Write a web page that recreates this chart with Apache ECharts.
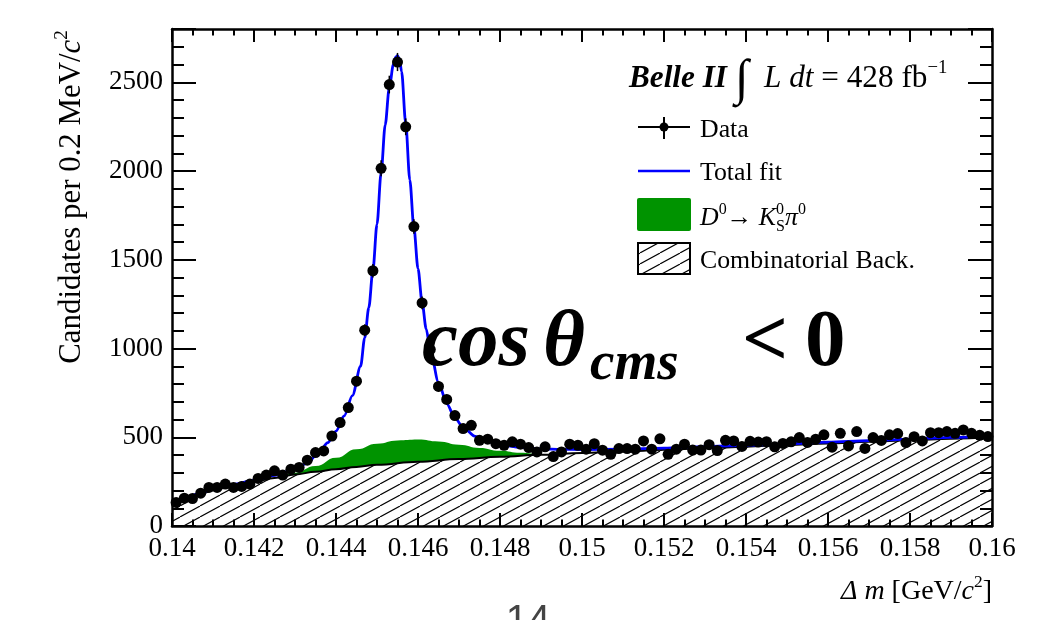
<!DOCTYPE html>
<html><head><meta charset="utf-8">
<script src="https://cdn.jsdelivr.net/npm/echarts@6/dist/echarts.min.js"></script>
<style>html,body{margin:0;padding:0;background:#fff}#c{width:1051px;height:620px}</style>
</head><body><div id="c"></div>
<script>
// ---------- data ----------
const binCenters = [0.1401,0.1403,0.1405,0.1407,0.1409,0.1411,0.1413,0.1415,0.1417,0.1419,
0.1421,0.1423,0.1425,0.1427,0.1429,0.1431,0.1433,0.1435,0.1437,0.1439,
0.1441,0.1443,0.1445,0.1447,0.1449,0.1451,0.1453,0.1455,0.1457,0.1459,
0.1461,0.1463,0.1465,0.1467,0.1469,0.1471,0.1473,0.1475,0.1477,0.1479,
0.1481,0.1483,0.1485,0.1487,0.1489,0.1491,0.1493,0.1495,0.1497,0.1499,
0.1501,0.1503,0.1505,0.1507,0.1509,0.1511,0.1513,0.1515,0.1517,0.1519,
0.1521,0.1523,0.1525,0.1527,0.1529,0.1531,0.1533,0.1535,0.1537,0.1539,
0.1541,0.1543,0.1545,0.1547,0.1549,0.1551,0.1553,0.1555,0.1557,0.1559,
0.1561,0.1563,0.1565,0.1567,0.1569,0.1571,0.1573,0.1575,0.1577,0.1579,
0.1581,0.1583,0.1585,0.1587,0.1589,0.1591,0.1593,0.1595,0.1597,0.1599];
const counts = [133,157,155,185,217,217,236,217,223,236,
268,287,311,287,320,330,371,414,423,507,
583,667,816,1103,1438,2015,2487,2614,2249,1687,
1257,994,786,713,622,549,567,483,489,464,
455,474,461,442,417,446,391,417,461,455,
433,464,427,404,436,436,433,479,433,491,
404,433,461,428,428,458,425,483,479,448,
477,473,475,446,465,474,498,471,489,514,
444,522,451,532,437,498,482,514,521,470,
503,479,526,526,532,522,541,522,511,504];

const fitX = [0.1400,0.1403,0.1406,0.1410,0.1415,0.1420,0.1425,0.1430,0.1433,0.1436,0.1438,0.1440,0.1442,0.1444,0.1446,0.1447,0.1448,0.1449,0.1450,0.1451,0.1452,0.1453,0.1454,0.14545,0.1455,0.14555,0.1456,0.1457,0.1458,0.1459,0.1460,0.1461,0.1462,0.1463,0.1465,0.1467,0.1469,0.1471,0.1474,0.1477,0.1480,0.1485,0.1490,0.1495,0.1500,0.1510,0.1520,0.1530,0.1540,0.1550,0.1560,0.1570,0.1580,0.1590,0.1600];
const fitY = [118,150,180,210,235,258,285,320,355,420,470,535,620,735,900,1060,1230,1440,1700,1990,2260,2470,2600,2640,2650,2630,2560,2270,1950,1680,1450,1260,1110,990,810,690,610,555,505,475,458,443,435,432,431,433,439,447,455,463,472,481,490,499,508];

const bkgX = [0.1400,0.1402,0.1404,0.1406,0.1408,0.1410,0.1415,0.1420,0.1425,0.1430,0.1435,0.1440,0.1445,0.1450,0.1460,0.1470,0.1480,0.1490,0.1500,0.1510,0.1520,0.1530,0.1540,0.1550,0.1560,0.1570,0.1580,0.1590,0.1600];
const bkgY = [110,135,155,172,188,202,228,250,270,290,306,320,333,345,362,377,390,401,411,420,429,438,447,456,465,474,483,492,501];

const peakX = [0.1420,0.1425,0.1430,0.1435,0.1440,0.1445,0.1450,0.1455,0.1460,0.1465,0.1470,0.1475,0.1480,0.1485,0.1490,0.1495];
const peakTopY = [250,272,300,338,385,433,464,482,487,476,458,440,424,412,404,406];

const xTicks = {min:0.14, max:0.16, step:0.002};
const yTicks = {min:0, max:2800, step:500, minorStep:100, lastLabel:2500};

// ---------- helpers ----------
const FAM = '"Liberation Serif"';
const mc = document.createElement('canvas').getContext('2d');
function tw(t,f){mc.font=f;return mc.measureText(t).width;}
function mid(f){mc.font=f;mc.textBaseline='middle';const d=mc.measureText('H').actualBoundingBoxDescent;mc.textBaseline='alphabetic';return d;}
function fit(text,style,target){return 100*target/tw(text,style+' 100px '+FAM);}
function T(x,base,text,font,fill){return {type:'text',x:x,y:base-mid(font),silent:true,z:100,
  style:{text:text,font:font,fill:fill||'#000',align:'left',verticalAlign:'middle',textAlign:'left',textVerticalAlign:'middle'}};}
function runW(p){let w=0;p.forEach(q=>{if(!q[3])w+=tw(q[0],q[1]);});return w;}
function run(p,x0,base){let x=x0;const out=[];p.forEach(q=>{out.push(T(x,base+(q[2]||0),q[0],q[1]));if(!q[3])x+=tw(q[0],q[1]);});return out;}

function makeHatch(){
  const W=20,H=11,c=document.createElement('canvas');c.width=W;c.height=H;
  const g=c.getContext('2d');g.fillStyle='#fff';g.fillRect(0,0,W,H);
  g.strokeStyle='#000';g.lineWidth=1.1;g.beginPath();
  for(let k=-1;k<=1;k++){g.moveTo(k*W,H);g.lineTo(k*W+W,0);}
  g.stroke();return c;
}
const hatch = makeHatch();
const hatchFill = {type:'pattern',image:hatch,repeat:'repeat'};

const G = [];
// legend
const L = fit('Combinatorial Back.','',215);
const nF = L+'px '+FAM, iF='italic '+L+'px '+FAM, sF=(L*0.62)+'px '+FAM;
G.push({type:'line',shape:{x1:638,y1:127,x2:690,y2:127},style:{stroke:'#000',lineWidth:2},z:100});
G.push({type:'line',shape:{x1:664,y1:117,x2:664,y2:139},style:{stroke:'#000',lineWidth:2},z:100});
G.push({type:'circle',shape:{cx:664,cy:127,r:4.5},style:{fill:'#000'},z:100});
G.push({type:'line',shape:{x1:638,y1:171,x2:690,y2:171},style:{stroke:'#0000ff',lineWidth:2.5},z:100});
G.push({type:'rect',shape:{x:637,y:198,width:54,height:33,r:2},style:{fill:'#009300'},z:100});
G.push({type:'rect',shape:{x:638,y:243,width:52,height:31},style:{fill:hatchFill,stroke:'#000',lineWidth:2},z:100});
G.push(...run([['Data',nF]],700,136.5));
G.push(...run([['Total fit',nF]],700,180));
G.push(...run([['D',iF],['0',sF,-L*0.42],['\u2192 ',nF],['K',iF],['0',sF,-L*0.42,true],['S',sF,L*0.22],['\u03c0',iF],['0',sF,-L*0.42]],700,225));
G.push(...run([['Combinatorial Back.',nF]],700,268));

// Belle II line
const B = fit('Belle II','italic bold',98);
const bF='italic bold '+B+'px '+FAM, bn=B+'px '+FAM, bi='italic '+B+'px '+FAM, bs=(B*0.6)+'px '+FAM, bint=(B*1.6)+'px '+FAM;
G.push(...run([['Belle II',bF],[' ',bn],['\u222b',bint,7],['  ',bn],['L',bi],[' ',bn],['dt',bi],[' = 428 fb',bn],['\u22121',bs,-B*0.45]],629,87));

// big label
const C = fit('cos','italic bold',108);
const cF='italic bold '+C+'px '+FAM, cs='italic bold '+(C*0.68)+'px '+FAM, cu='bold '+C+'px '+FAM;
G.push(T(422,365,'cos',cF));
G.push(T(543,365,'\u03b8',cF));
G.push(T(590,379,'cms',cs));
G.push(T(742,365,'<',cu));
G.push(T(805,365,'0',cu));

// y title (rotated)
const Y = fit('Candidates per 0.2 MeV/c','',324);
const yp = [['Candidates per 0.2 MeV/',Y+'px '+FAM],['c','italic '+Y+'px '+FAM],['2',(Y*0.62)+'px '+FAM,-Y*0.42]];
const yw = runW(yp);
G.push({type:'group',x:80,y:197,rotation:Math.PI/2,children:run(yp,-yw/2,0)});

// x title
const X = 28;
const xp = [['\u0394','italic '+X+'px '+FAM],[' ',X+'px '+FAM],['m','italic '+X+'px '+FAM],[' [GeV/',X+'px '+FAM],['c','italic '+X+'px '+FAM],['2',(X*0.62)+'px '+FAM,-X*0.42],[']',X+'px '+FAM]];
G.push(...run(xp,992-runW(xp),599));

// page number
const pn='40px "Liberation Sans"';
G.push(T(528-tw('14',pn)/2,633,'14',pn,'#444'));

// ---------- chart ----------
const tickStyle = {color:'#000',width:2};
function xAx(pos,labels){return {type:'value',position:pos,min:xTicks.min,max:xTicks.max,interval:xTicks.step,z:10,
  axisLine:{show:true,onZero:false,lineStyle:{color:'#000',width:2.5}},
  axisTick:{show:true,inside:true,length:13,lineStyle:tickStyle},
  minorTick:{show:true,splitNumber:4,length:6.5,lineStyle:tickStyle},
  splitLine:{show:false},minorSplitLine:{show:false},
  axisLabel:{show:labels,margin:9,fontSize:27,fontFamily:'Liberation Serif',color:'#000',
    formatter:v=>String(+(+v).toFixed(4))}};}
function yAx(pos,major,labels){return {type:'value',position:pos,min:yTicks.min,max:yTicks.max,
  interval:major?yTicks.step:yTicks.minorStep,z:10,
  axisLine:{show:major,onZero:false,lineStyle:{color:'#000',width:2.5}},
  axisTick:{show:true,inside:true,length:major?24:12,lineStyle:tickStyle},
  splitLine:{show:false},
  axisLabel:{show:labels,margin:9,fontSize:27,fontFamily:'Liberation Serif',color:'#000',
    formatter:v=>(v>yTicks.lastLabel?'':String(v))}};}

const chart = echarts.init(document.getElementById('c'));
chart.setOption({
  animation:false,
  backgroundColor:'#fff',
  grid:{left:172,right:59,top:29,bottom:94,containLabel:false},
  xAxis:[xAx('bottom',true),xAx('top',false)],
  yAxis:[yAx('left',true,true),yAx('left',false,false),yAx('right',true,false),yAx('right',false,false)],
  series:[
    {type:'line',data:peakX.map((x,i)=>[x,peakTopY[i]]),smooth:0.5,smoothMonotone:'x',symbol:'none',
     lineStyle:{width:0},areaStyle:{color:'#009300',opacity:1},z:1,silent:true},
    {type:'line',data:bkgX.map((x,i)=>[x,bkgY[i]]),smooth:0.4,smoothMonotone:'x',symbol:'none',
     lineStyle:{color:'#000',width:2},areaStyle:{color:{image:hatch,repeat:'repeat'},opacity:1},z:2,silent:true},
    {type:'line',data:fitX.map((x,i)=>[x,fitY[i]]),smooth:0.3,smoothMonotone:'x',symbol:'none',
     lineStyle:{color:'#0000ff',width:2.8},z:3,silent:true},
    {type:'custom',data:binCenters.map((x,i)=>[x,counts[i]]),z:4,silent:true,
     renderItem:function(params,api){const x=api.value(0),y=api.value(1),e=Math.sqrt(y);
       const a=api.coord([x,y+e]),b=api.coord([x,y-e]);
       return {type:'line',shape:{x1:a[0],y1:a[1],x2:b[0],y2:b[1]},style:{stroke:'#000',lineWidth:1.5}};}},
    {type:'scatter',data:binCenters.map((x,i)=>[x,counts[i]]),symbol:'circle',symbolSize:11,
     itemStyle:{color:'#000',opacity:1,borderWidth:0},z:5,silent:true}
  ],
  graphic:{elements:G}
});
</script></body></html>
